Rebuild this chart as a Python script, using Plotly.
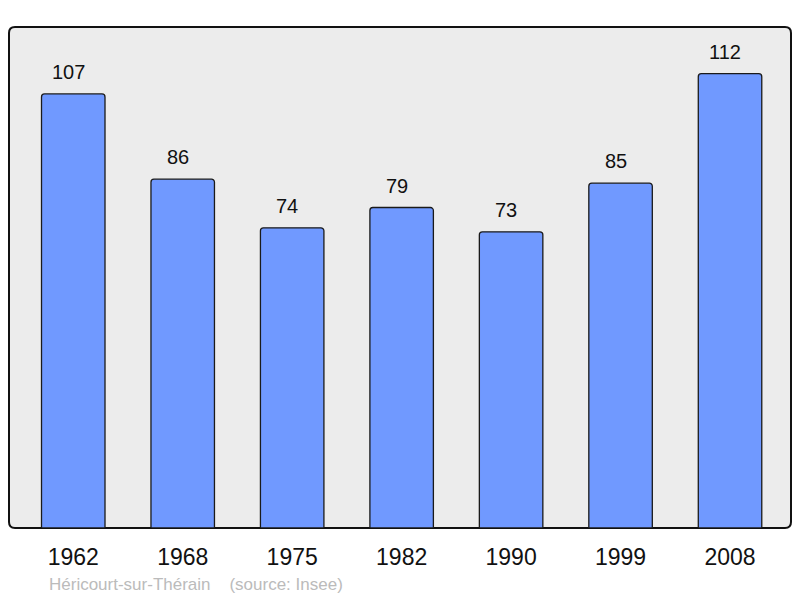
import plotly.graph_objects as go

years = ["1962", "1968", "1975", "1982", "1990", "1999", "2008"]
population = [107, 86, 74, 79, 73, 85, 112]
source_text = "Héricourt-sur-Thérain    (source: Insee)"

fig = go.Figure()
fig.add_trace(go.Bar(
    x=years, y=population, width=0.58,
    marker=dict(color="#7099ff", line=dict(color="#1a1a1a", width=1.3), cornerradius=3),
    hoverinfo="skip",
))

# value labels (category index positions on the category axis)
for i, v in enumerate(population):
    fig.add_annotation(x=i, y=v, xref="x", yref="y", text=str(v), showarrow=False,
                       yshift=22, xshift=-5, yanchor="middle",
                       font=dict(size=20, color="#111", family="Liberation Sans, Arial"))

# rounded frame
rx, ry = 6/782, 6/501
path = (f"M {rx},0 L {1-rx},0 Q 1,0 1,{ry} L 1,{1-ry} Q 1,1 {1-rx},1 "
        f"L {rx},1 Q 0,1 0,{1-ry} L 0,{ry} Q 0,0 {rx},0 Z")
fig.add_shape(type="path", path=path, xref="paper", yref="paper",
              fillcolor="#ececec", line=dict(color="#111", width=2), layer="below")

fig.add_annotation(x=(47 - 9) / 782, y=-(584 - 528) / 501, xref="paper", yref="paper",
                   text=source_text, showarrow=False, xanchor="left", yanchor="middle",
                   font=dict(size=17, color="#bbbbbb", family="Liberation Sans, Arial"))

fig.update_layout(
    width=800, height=598,
    margin=dict(l=9, r=9, t=27, b=70),
    paper_bgcolor="white", plot_bgcolor="rgba(0,0,0,0)",
    showlegend=False,
    font=dict(family="Liberation Sans, Arial", color="#111"),
    xaxis=dict(type="category", range=[-0.587, 6.557], showgrid=False, zeroline=False,
               showline=False, ticks="outside", ticklen=8, tickcolor="rgba(0,0,0,0)",
               tickfont=dict(size=23, color="#111"), fixedrange=True),
    yaxis=dict(range=[0, 123.5], showgrid=False, zeroline=False, showline=False,
               showticklabels=False, fixedrange=True),
)

fig.write_html("out.html", config={"displayModeBar": False},
               post_script="document.body.style.margin='0';")
